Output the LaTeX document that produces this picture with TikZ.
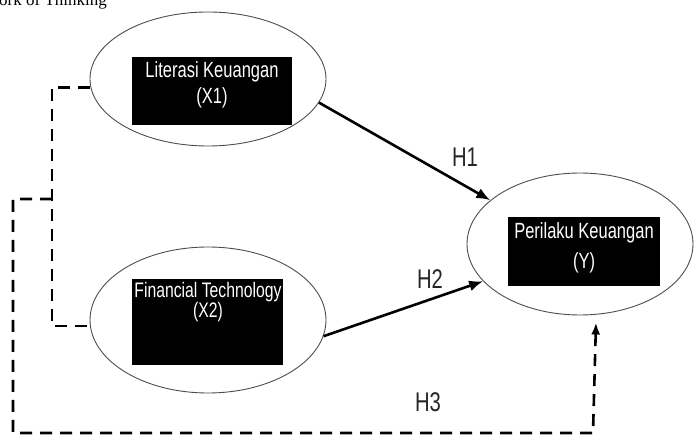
\documentclass[tikz,border=0pt]{standalone}
\usepackage{fontspec}
\setmainfont{Liberation Serif}
\newfontfamily\narrowsans[FakeStretch=0.75]{Liberation Sans}
\usetikzlibrary{shapes.geometric,arrows.meta,calc}
\begin{document}
\begin{tikzpicture}[x=1pt,y=-1pt,
  latent/.style={ellipse, draw=black!70, line width=0.9pt, inner sep=0pt},
  blackbox/.style={fill=black, draw=none, inner sep=0pt},
  boxtext/.style={text=white, align=center, inner sep=0pt},
  hlabel/.style={text=black!85, inner sep=0pt, font=\narrowsans\fontsize{27}{30}\selectfont},
  solidarrow/.style={line width=2.6pt, -{Latex[length=14pt,width=11pt]}},
  dashline/.style={line width=2.6pt, dash pattern=on 12pt off 8pt},
]
\clip (0,0) rectangle (694,438);
% title (cut off at the top)
\node[anchor=base west, inner sep=0pt, font=\fontsize{17}{20}\selectfont] (title) at (-1,6) {ork of Thinking};
% latent variables
\node[latent, minimum width=236pt, minimum height=134pt] (X1) at (208,79) {};
\node[latent, minimum width=236pt, minimum height=146pt] (X2) at (208,320) {};
\node[latent, minimum width=226pt, minimum height=142pt] (Y) at (580,244) {};
% black boxes
\node[blackbox, minimum width=160pt, minimum height=68pt] (B1) at (212,91) {};
\node[blackbox, minimum width=151pt, minimum height=86pt] (B2) at (207.5,322) {};
\node[blackbox, minimum width=152pt, minimum height=69pt] (B3) at (584,251.5) {};
% box texts
\node[boxtext, font=\narrowsans\fontsize{22}{26}\selectfont] (T1) at (212,85) {Literasi Keuangan\\(X1)};
\node[boxtext, font=\narrowsans\fontsize{21}{20}\selectfont] (T2) at (208,302) {Financial Technology\\(X2)};
\node[boxtext, font=\narrowsans\fontsize{22}{30}\selectfont] (T3) at (584,248) {Perilaku Keuangan\\(Y)};
% hypothesis arrows
\draw[solidarrow] (X1.-12.5) -- (Y.154.7);
\draw[solidarrow] (X2.-8.4) -- (Y.201.3);
% labels
\node[hlabel] (H1) at (465,157) {H1};
\node[hlabel] (H2) at (430,279) {H2};
\node[hlabel] (H3) at (428,402) {H3};
% dashed connectors
\coordinate (j) at (52,199);
\coordinate (c1) at (13,199);
\coordinate (c2) at (13,433);
\coordinate (c3) at (593,433);
\coordinate (h3tip) at ($(Y.south)+(16,7)$);
\draw[dashline] (X1.184) -- (X1.184 -| j) |- (X2.183);
\draw[dashline, -{Latex[length=12pt,width=9pt]}] (j) -- (c1) -- (c2) -- (c3) -- (h3tip);
\end{tikzpicture}
\end{document}
